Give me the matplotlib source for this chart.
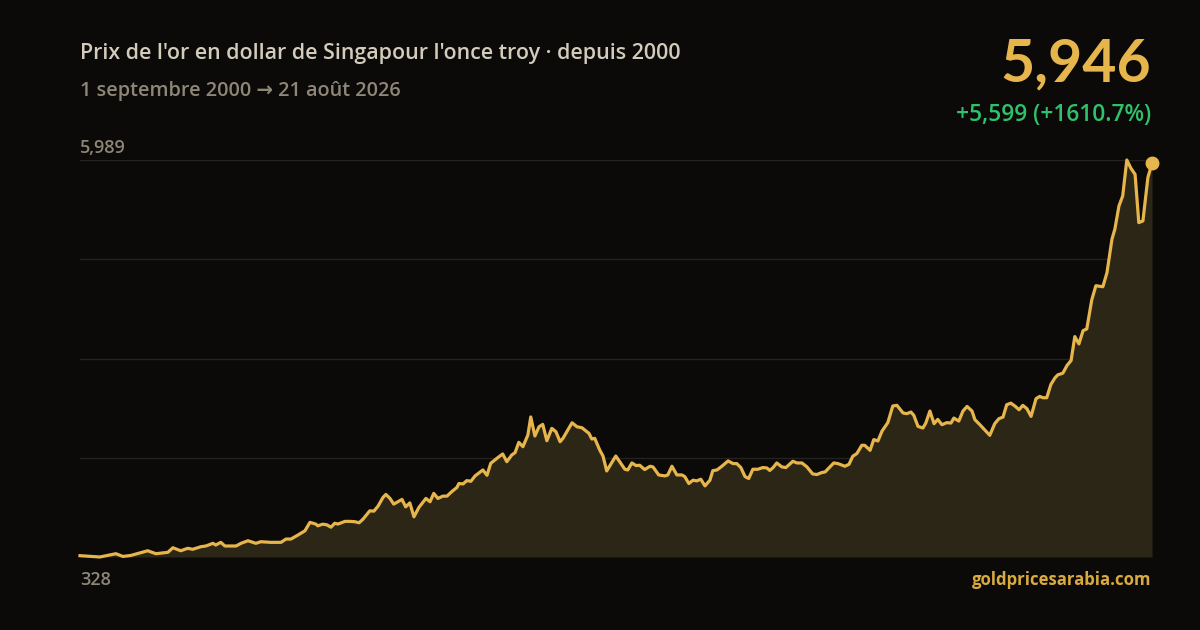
import matplotlib
matplotlib.use("Agg")
import matplotlib.pyplot as plt
import numpy as np

# Decimal-year positions and SGD prices
years = [2000.67, 2000.86, 2001.15, 2001.54, 2001.71, 2001.90, 2002.31, 2002.51, 2002.80, 2002.92,
         2003.11, 2003.28, 2003.40, 2003.60, 2003.72, 2003.89, 2003.96, 2004.08, 2004.18, 2004.45,
         2004.57, 2004.74, 2004.93, 2005.05, 2005.29, 2005.54, 2005.66, 2005.78, 2005.95, 2006.12,
         2006.24, 2006.38, 2006.43, 2006.55, 2006.65, 2006.75, 2006.84, 2006.92, 2007.09, 2007.21,
         2007.33, 2007.43, 2007.52, 2007.69, 2007.79, 2007.89, 2008.01, 2008.08, 2008.18, 2008.27,
         2008.47, 2008.56, 2008.66, 2008.76, 2008.88, 2009.05, 2009.15, 2009.24, 2009.34, 2009.46,
         2009.56, 2009.68, 2009.80, 2009.85, 2009.95, 2010.04, 2010.14, 2010.24, 2010.43, 2010.53,
         2010.62, 2010.77, 2010.91, 2011.01, 2011.13, 2011.21, 2011.30, 2011.40, 2011.52, 2011.59,
         2011.69, 2011.79, 2011.88, 2011.98, 2012.10, 2012.20, 2012.30, 2012.37, 2012.59, 2012.71,
         2012.83, 2012.95, 2013.00, 2013.07, 2013.14, 2013.26, 2013.34, 2013.43, 2013.65, 2013.87,
         2013.94, 2014.04, 2014.14, 2014.23, 2014.35, 2014.48, 2014.55, 2014.69, 2014.84, 2014.91,
         2015.01, 2015.13, 2015.25, 2015.32, 2015.42, 2015.52, 2015.61, 2015.71, 2015.81, 2015.93,
         2016.00, 2016.10, 2016.22, 2016.37, 2016.49, 2016.58, 2016.68, 2016.78, 2016.87, 2016.97,
         2017.09, 2017.21, 2017.31, 2017.38, 2017.46, 2017.55, 2017.67, 2017.77, 2017.94, 2018.04,
         2018.16, 2018.28, 2018.42, 2018.52, 2018.64, 2018.72, 2018.93, 2019.03, 2019.20, 2019.30,
         2019.39, 2019.49, 2019.61, 2019.68, 2019.81, 2019.90, 2020.00, 2020.10, 2020.24, 2020.36,
         2020.46, 2020.61, 2020.70, 2020.80, 2020.87, 2020.97, 2021.09, 2021.16, 2021.26, 2021.36,
         2021.45, 2021.55, 2021.67, 2021.77, 2021.84, 2021.96, 2022.06, 2022.16, 2022.28, 2022.35,
         2022.47, 2022.59, 2022.71, 2022.83, 2022.93, 2023.03, 2023.12, 2023.22, 2023.32, 2023.42,
         2023.51, 2023.61, 2023.71, 2023.83, 2023.92, 2024.00, 2024.09, 2024.19, 2024.29, 2024.36,
         2024.48, 2024.58, 2024.68, 2024.77, 2024.87, 2024.97, 2025.06, 2025.18, 2025.28, 2025.45,
         2025.55, 2025.67, 2025.74, 2025.84, 2025.93, 2026.03, 2026.13, 2026.23, 2026.32, 2026.42,
         2026.54, 2026.64]

prices = [347, 340, 328, 375, 336, 350, 417, 375, 395, 460,
          417, 452, 438, 475, 485, 523, 499, 537, 485, 485,
          523, 560, 523, 546, 537, 537, 584, 584, 641, 702,
          822, 798, 773, 796, 787, 753, 809, 798, 836, 836,
          831, 816, 864, 986, 982, 1053, 1177, 1220, 1163, 1082,
          1149, 1043, 1100, 901, 1035, 1163, 1116, 1235, 1163, 1196,
          1196, 1262, 1319, 1376, 1370, 1417, 1408, 1484, 1569, 1493,
          1664, 1735, 1797, 1687, 1783, 1816, 1963, 1901, 2067, 2325,
          2053, 2185, 2219, 1986, 2162, 2114, 1972, 2020, 2242, 2185,
          2171, 2114, 2091, 2010, 2020, 1854, 1768, 1555, 1768, 1579,
          1569, 1669, 1632, 1636, 1575, 1622, 1613, 1498, 1484, 1498,
          1622, 1498, 1498, 1475, 1376, 1423, 1413, 1437, 1342, 1423,
          1559, 1569, 1622, 1698, 1660, 1660, 1603, 1475, 1447, 1579,
          1579, 1603, 1598, 1562, 1603, 1669, 1613, 1603, 1693, 1669,
          1669, 1613, 1512, 1504, 1532, 1541, 1669, 1660, 1622, 1650,
          1764, 1803, 1921, 1921, 1849, 2002, 1982, 2124, 2244, 2481,
          2491, 2381, 2372, 2395, 2348, 2191, 2167, 2238, 2409, 2229,
          2290, 2215, 2244, 2238, 2309, 2266, 2409, 2475, 2409, 2286,
          2215, 2140, 2063, 2229, 2300, 2323, 2499, 2522, 2480, 2428,
          2490, 2443, 2333, 2585, 2618, 2599, 2599, 2788, 2883, 2926,
          2949, 3058, 3130, 3471, 3367, 3556, 3580, 3993, 4196, 4182,
          4385, 4860, 5002, 5334, 5476, 5989, 5870, 5785, 5096, 5120,
          5737, 5946]

title = "Prix de l'or en dollar de Singapour l'once troy · depuis 2000"
subtitle = "1 septembre 2000 \u2192 21 août 2026"
last_label = "5,946"
change_label = "+5,599 (+1610.7%)"
source = "goldpricesarabia.com"

BG = "#0b0a09"
GOLD = "#e6b54c"
FILL = "#2c2616"
GRID = "#24221d"
TITLE_C = "#d3ccbd"
SUB_C = "#8e8777"
GREEN = "#2fc26b"

plt.rcParams['font.family'] = ['Open Sans', 'DejaVu Sans']

fig = plt.figure(figsize=(12, 6.3), dpi=100, facecolor=BG)
ax = fig.add_axes([80/1200, 73/630, 1072/1200, 397/630])
ax.set_facecolor(BG)

x = np.array(years)
y = np.array(prices)
ymin, ymax = y.min(), y.max()

ax.fill_between(x, y, ymin, color=FILL, lw=0, zorder=1)
for k in range(5):
    lvl = ymin + (ymax - ymin) * k / 4
    ax.axhline(lvl, color=GRID, lw=1.0, zorder=0.5)
ax.plot(x, y, color=GOLD, lw=2.3, solid_joinstyle='round', zorder=3, clip_on=False)
ax.plot([x[-1]], [y[-1]], 'o', color=GOLD, ms=9, zorder=4, clip_on=False)

ax.set_xlim(x[0], x[-1])
ax.set_ylim(ymin, ymax)
for s in ax.spines.values():
    s.set_visible(False)
ax.set_xticks([])
ax.set_yticks([])

fig.text(80/1200, 1 - 53/630, title, color=TITLE_C, fontsize=15.4, fontweight='semibold',
         ha='left', va='center')
fig.text(80/1200, 1 - 91/630, subtitle, color=SUB_C, fontsize=14.3, fontweight='semibold',
         ha='left', va='center')
fig.text(80/1200, 1 - 148/630, f"{ymax:,.0f}", color=SUB_C, fontsize=13, fontweight='semibold',
         ha='left', va='center')
fig.text(80/1200, 1 - 580/630, f"{ymin:,.0f}", color=SUB_C, fontsize=13, fontweight='semibold',
         ha='left', va='center')
fig.text(1151/1200, 1 - 580/630, source, color="#d9aa40", fontsize=12.1, fontweight='bold',
         ha='right', va='center')
fig.text(1151/1200, 1 - 64/630, last_label, color=GOLD, fontsize=42.5, fontweight='bold',
         ha='right', va='center', family=['Lato', 'DejaVu Sans'])
fig.text(1151/1200, 1 - 115/630, change_label, color=GREEN, fontsize=16.4, fontweight='semibold',
         ha='right', va='center')

fig.savefig("out.png", dpi=100, facecolor=BG)
